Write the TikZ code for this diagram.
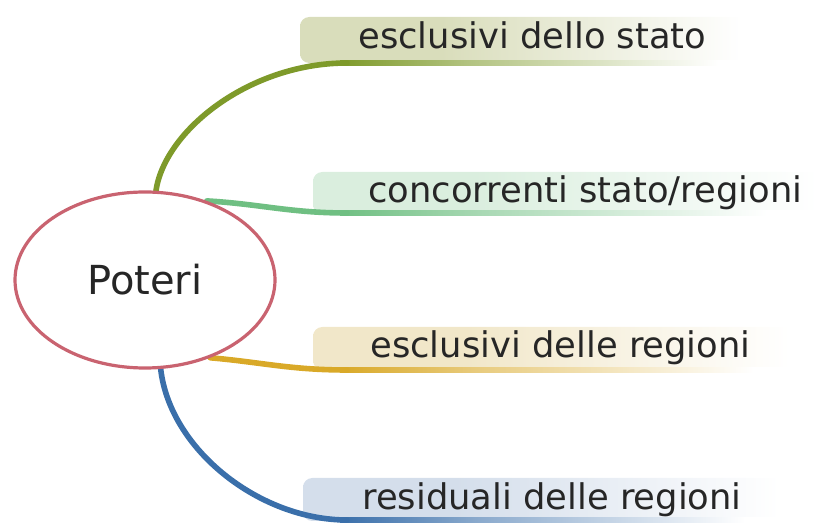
\documentclass[tikz,border=0pt]{standalone}
\usepackage{fontspec}
\setmainfont{DejaVu Sans}
\usetikzlibrary{shapes.geometric,backgrounds}
\definecolor{ellc}{HTML}{C96370}
\definecolor{txtc}{HTML}{262626}
\definecolor{lnA}{HTML}{7E9A2A}
\definecolor{lnB}{HTML}{6FBF82}
\definecolor{lnC}{HTML}{D9A928}
\definecolor{lnD}{HTML}{3A6FAA}
\definecolor{bxA}{HTML}{D9DDBB}
\definecolor{bxB}{HTML}{DAEEDE}
\definecolor{bxC}{HTML}{F1E7C9}
\definecolor{bxD}{HTML}{D4DEEB}
\pgfdeclarehorizontalshading{boxA}{100bp}{color(0bp)=(bxA); color(40bp)=(bxA); color(72bp)=(white); color(100bp)=(white)}
\pgfdeclarehorizontalshading{boxB}{100bp}{color(0bp)=(bxB); color(40bp)=(bxB); color(72bp)=(white); color(100bp)=(white)}
\pgfdeclarehorizontalshading{boxC}{100bp}{color(0bp)=(bxC); color(40bp)=(bxC); color(72bp)=(white); color(100bp)=(white)}
\pgfdeclarehorizontalshading{boxD}{100bp}{color(0bp)=(bxD); color(40bp)=(bxD); color(72bp)=(white); color(100bp)=(white)}
\pgfdeclarehorizontalshading{ulA}{100bp}{color(0bp)=(lnA); color(25bp)=(lnA); color(40bp)=(lnA!60!white); color(70bp)=(white); color(100bp)=(white)}
\pgfdeclarehorizontalshading{ulB}{100bp}{color(0bp)=(lnB); color(25bp)=(lnB); color(40bp)=(lnB!60!white); color(70bp)=(white); color(100bp)=(white)}
\pgfdeclarehorizontalshading{ulC}{100bp}{color(0bp)=(lnC); color(25bp)=(lnC); color(40bp)=(lnC!60!white); color(70bp)=(white); color(100bp)=(white)}
\pgfdeclarehorizontalshading{ulD}{100bp}{color(0bp)=(lnD); color(25bp)=(lnD); color(40bp)=(lnD!60!white); color(70bp)=(white); color(100bp)=(white)}
\begin{document}
\begin{tikzpicture}[x=0.75pt,y=-0.75pt,
  center/.style={ellipse,draw=ellc,line width=2.4pt,fill=white,
    minimum width=195pt,minimum height=132pt,inner sep=0pt,
    font=\fontsize{30}{36}\selectfont,text=txtc},
  branchtext/.style={anchor=base west,inner sep=0pt,
    font=\fontsize{26.5}{31}\selectfont,text=txtc},
  conn/.style={line width=4.2pt,line cap=round},
  boxshape/.style={rounded corners=7pt},
]
\useasboundingbox (0,0) rectangle (814,523);
\node[center] (poteri) at (145,280) {Poteri};
\node[branchtext] (t1) at (358,49) {esclusivi dello stato};
\node[branchtext] (t2) at (368,203) {concorrenti stato/regioni};
\node[branchtext] (t3) at (370,358) {esclusivi delle regioni};
\node[branchtext] (t4) at (362,510) {residuali delle regioni};
\coordinate (e1) at (347,63);
\coordinate (e2) at (347,213);
\coordinate (e3) at (347,370);
\coordinate (e4) at (347,520);
\begin{pgfonlayer}{background}
\shade[shading=boxA,boxshape] (300,17) rectangle (770,63);
\shade[shading=boxB,boxshape] (313,172) rectangle (850,214);
\shade[shading=boxC,boxshape] (313,327) rectangle (820,370);
\shade[shading=boxD,boxshape] (303,478) rectangle (810,521);
\shade[shading=ulA] (340,60.8) rectangle (760,65.2);
\shade[shading=ulB] (340,210.8) rectangle (814,215.2);
\shade[shading=ulC] (340,367.8) rectangle (800,372.2);
\shade[shading=ulD] (340,517.8) rectangle (790,522.2);
\draw[conn,lnA] (poteri.83) .. controls (165,130) and (250,63) .. (e1);
\draw[conn,lnB] (poteri.52) .. controls (260,204) and (290,213) .. (e2);
\draw[conn,lnC] (poteri.-50) .. controls (260,362) and (290,370) .. (e3);
\draw[conn,lnD] (poteri.-80) .. controls (170,450) and (260,520) .. (e4);
\end{pgfonlayer}
\end{tikzpicture}
\end{document}
